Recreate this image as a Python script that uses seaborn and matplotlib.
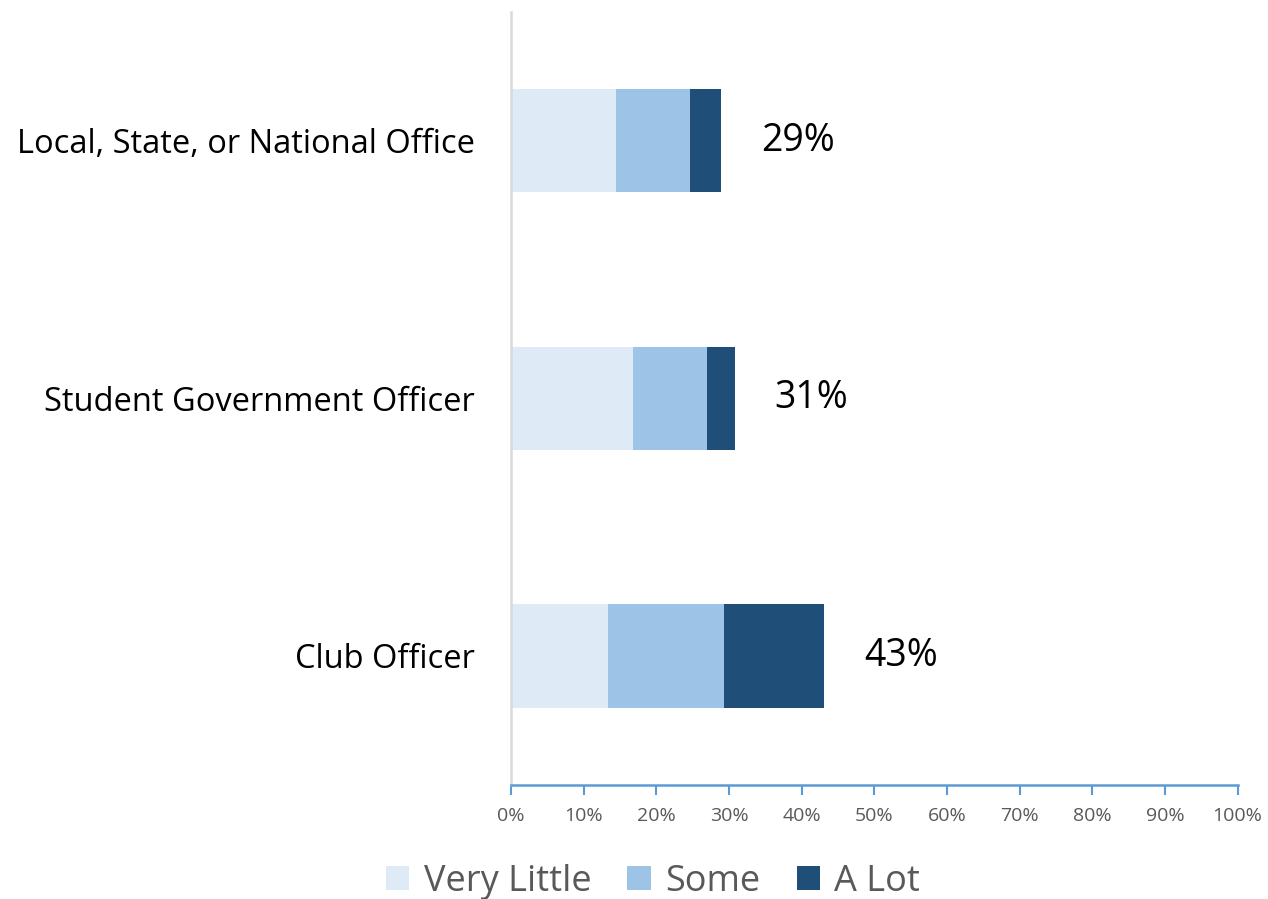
import matplotlib
matplotlib.use("Agg")
import matplotlib.pyplot as plt
import matplotlib.patches as mpatches
import seaborn as sns
import pandas as pd
import numpy as np

# Share of respondents by level of involvement in each type of office
categories = ["Local, State, or National Office", "Student Government Officer", "Club Officer"]
very_little = [14.4, 16.8, 13.3]
some = [10.2, 10.2, 16.0]
a_lot = [4.3, 3.8, 13.8]
series_names = ["Very Little", "Some", "A Lot"]
colors = ["#DEEAF6", "#9DC3E6", "#1F4E79"]
tick_values = list(range(0, 101, 10))

sns.set_theme(style="white")
plt.rcParams["font.family"] = ["Open Sans", "DejaVu Sans"]

df = pd.DataFrame({
    "category": categories,
    "very_little": very_little,
    "some": some,
    "a_lot": a_lot,
})
df["cum_some"] = df["very_little"] + df["some"]
df["total"] = df["cum_some"] + df["a_lot"]

fig = plt.figure(figsize=(12.68, 8.99), dpi=100)
ax = fig.add_axes([0.403, 0.127, 0.573, 0.86])

# Stack by overdrawing cumulative totals, largest first
for col, color in zip(["total", "cum_some", "very_little"], colors[::-1]):
    sns.barplot(data=df, x=col, y="category", color=color, width=0.4,
                orient="h", ax=ax, saturation=1, linewidth=0)

for i, tot in enumerate(df["total"]):
    ax.text(tot + 5.5, i, f"{round(tot):d}%", va="center", ha="left",
            fontsize=27, color="black")

ax.set_xlim(0, 100)
ax.set_ylim(2.5, -0.5)
ax.set_xticks(tick_values)
ax.set_xticklabels([f"{v}%" for v in tick_values], fontsize=14, color="#595959")
ax.set_xlabel("")
ax.set_ylabel("")
ax.tick_params(axis="y", labelsize=23.5, colors="black", length=0, pad=26)
ax.tick_params(axis="x", direction="out", length=7, width=1.5, color="#5B9BD5",
               bottom=True, pad=9)

for side in ["top", "right"]:
    ax.spines[side].set_visible(False)
ax.spines["bottom"].set_color("#5B9BD5")
ax.spines["bottom"].set_linewidth(1.8)
ax.spines["left"].set_color("#D9D9D9")
ax.spines["left"].set_linewidth(1.8)

handles = [mpatches.Patch(facecolor=c, edgecolor="none", label=n)
           for c, n in zip(colors, series_names)]
leg = fig.legend(handles=handles, loc="center", bbox_to_anchor=(0.515, 0.019),
                 ncol=3, frameon=False, fontsize=26, handlelength=0.65,
                 handleheight=0.65, handletextpad=0.4, columnspacing=1.0)
for t in leg.get_texts():
    t.set_color("#595959")

fig.savefig("out.png", dpi=100)
